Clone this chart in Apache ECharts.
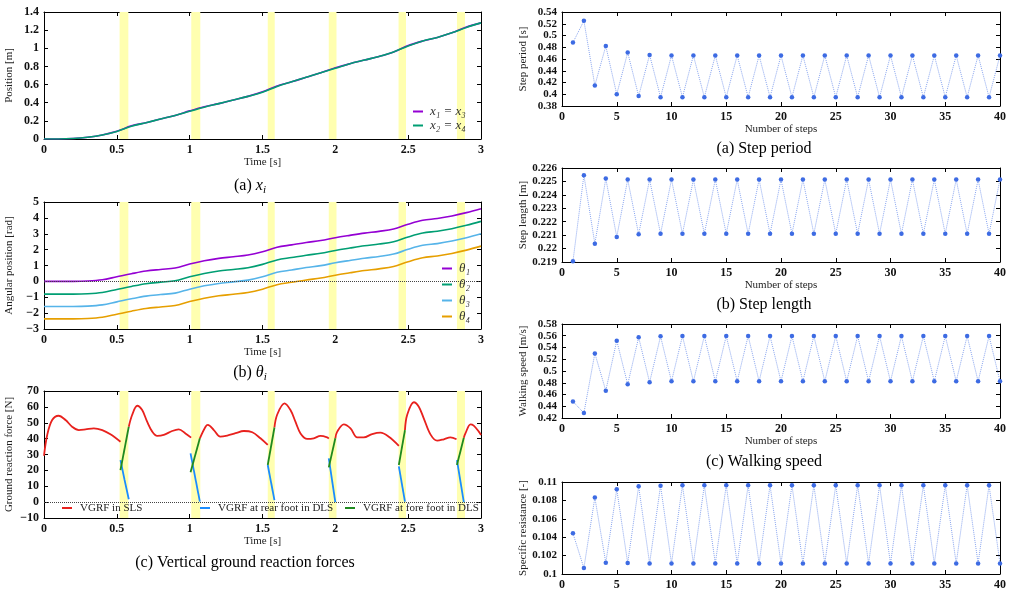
<!DOCTYPE html>
<html>
<head>
<meta charset="utf-8">
<script src="https://cdn.jsdelivr.net/npm/echarts@6/dist/echarts.min.js"></script>
<style>
  html, body { margin: 0; padding: 0; background: #fff; }
  #chart { width: 1011px; height: 591px; }
</style>
</head>
<body>
<div id="chart"></div>
<script>
// --- left column: simulation over time [s] ---
const time = [0, 0.1, 0.2, 0.3, 0.4, 0.5, 0.6, 0.7, 0.8, 0.9, 1.0, 1.1, 1.2, 1.3, 1.4, 1.5,
  1.6, 1.7, 1.8, 1.9, 2.0, 2.1, 2.2, 2.3, 2.4, 2.5, 2.6, 2.7, 2.8, 2.9, 3.0];
const x13 = [0, 0, 0.005, 0.02, 0.045, 0.085, 0.145, 0.18, 0.22, 0.26, 0.31, 0.355, 0.39, 0.43, 0.47, 0.52,
  0.585, 0.63, 0.68, 0.73, 0.785, 0.83, 0.87, 0.91, 0.96, 1.03, 1.08, 1.12, 1.17, 1.235, 1.28];
const x24 = [0, 0, 0.005, 0.02, 0.045, 0.083, 0.14, 0.18, 0.22, 0.26, 0.305, 0.35, 0.39, 0.43, 0.47, 0.515,
  0.58, 0.63, 0.68, 0.73, 0.78, 0.83, 0.87, 0.91, 0.96, 1.025, 1.08, 1.12, 1.17, 1.23, 1.28];
const theta1 = [0, 0, 0, 0.02, 0.1, 0.29, 0.48, 0.65, 0.75, 0.84, 1.09, 1.3, 1.45, 1.55, 1.66, 1.87,
  2.15, 2.3, 2.45, 2.57, 2.75, 2.9, 3.04, 3.15, 3.3, 3.6, 3.85, 3.96, 4.12, 4.33, 4.58];
const theta2 = [-0.8, -0.8, -0.8, -0.78, -0.7, -0.51, -0.32, -0.15, -0.05, 0.04, 0.29, 0.5, 0.65, 0.75, 0.86, 1.07,
  1.35, 1.5, 1.65, 1.77, 1.95, 2.1, 2.24, 2.35, 2.5, 2.8, 3.05, 3.16, 3.32, 3.53, 3.78];
const theta3 = [-1.58, -1.58, -1.58, -1.56, -1.48, -1.29, -1.1, -0.93, -0.83, -0.74, -0.49, -0.28, -0.13, -0.03, 0.08, 0.29,
  0.57, 0.72, 0.87, 0.99, 1.17, 1.32, 1.46, 1.57, 1.72, 2.02, 2.27, 2.38, 2.54, 2.75, 3.0];
const theta4 = [-2.36, -2.36, -2.36, -2.34, -2.26, -2.07, -1.88, -1.71, -1.61, -1.52, -1.27, -1.06, -0.91, -0.81, -0.7, -0.49,
  -0.21, -0.06, 0.09, 0.21, 0.39, 0.54, 0.68, 0.79, 0.94, 1.24, 1.49, 1.6, 1.76, 1.97, 2.22];

// double leg stance phases (yellow bands)
const bandStart = [0.519, 1.011, 1.536, 1.955, 2.434, 2.835];
const bandEnd = [0.579, 1.073, 1.584, 2.008, 2.485, 2.89];

// vertical ground reaction forces [N], pieces of [t, F]
const slsSegments = [
  [[0, 29.2], [0.022, 42.3], [0.056, 51.7], [0.1, 54.4], [0.148, 51.7], [0.193, 47.5], [0.239, 45.4], [0.285, 45.8], [0.342, 46.5], [0.4, 45.4], [0.456, 42.7], [0.525, 38]],
  [[0.582, 47.5], [0.605, 54.9], [0.64, 60.7], [0.674, 58], [0.708, 50.7], [0.743, 44.4], [0.777, 41.7], [0.822, 42.3], [0.88, 44.8], [0.925, 45.8], [0.971, 43.3], [1.01, 40.6]],
  [[1.07, 40.2], [1.109, 47.5], [1.125, 48.6], [1.166, 45.4], [1.21, 41.2], [1.258, 41.9], [1.315, 43.4], [1.372, 44.8], [1.43, 44], [1.486, 40.2], [1.536, 36]],
  [[1.582, 47], [1.6, 54.9], [1.651, 62.2], [1.692, 58], [1.726, 50.7], [1.761, 43.3], [1.807, 39.8], [1.852, 40.2], [1.898, 41.7], [1.944, 40.8], [1.955, 40]],
  [[2.0, 40.2], [2.013, 44.4], [2.058, 49], [2.104, 46.5], [2.15, 40.8], [2.195, 40.8], [2.253, 42.9], [2.31, 43.8], [2.367, 41.2], [2.436, 35.5]],
  [[2.478, 45.4], [2.493, 54.9], [2.539, 62.9], [2.573, 60.1], [2.607, 52.8], [2.653, 42.7], [2.699, 38.7], [2.745, 39.6], [2.79, 40.8], [2.832, 39.6]],
  [[2.882, 40.6], [2.893, 43.3], [2.928, 49], [2.95, 48.2], [2.985, 44.4], [3.0, 42.3]]
];
const rearSegments = [
  [[0.525, 26.5], [0.553, 14], [0.582, 1.8]],
  [[1.006, 30.7], [1.07, 0.3]],
  [[1.536, 23.4], [1.582, 1.3]],
  [[1.955, 27.6], [2.0, 0]],
  [[2.436, 22.5], [2.478, 0.3]],
  [[2.835, 26.5], [2.882, 0]]
];
const foreSegments = [
  [[0.525, 20.2], [0.582, 47.5]],
  [[1.006, 18.8], [1.07, 40.2]],
  [[1.536, 23.4], [1.582, 47]],
  [[1.955, 21.9], [2.0, 40.2]],
  [[2.436, 23.4], [2.478, 45.4]],
  [[2.835, 23.4], [2.882, 40.6]]
];

// --- right column: per step ---
const steps = [1, 2, 3, 4, 5, 6, 7, 8, 9, 10, 11, 12, 13, 14, 15, 16, 17, 18, 19, 20,
  21, 22, 23, 24, 25, 26, 27, 28, 29, 30, 31, 32, 33, 34, 35, 36, 37, 38, 39, 40];
const stepPeriod = [0.488, 0.525, 0.415, 0.482, 0.4, 0.471, 0.397, 0.467, 0.395, 0.466,
  0.395, 0.466, 0.395, 0.466, 0.395, 0.466, 0.395, 0.466, 0.395, 0.466,
  0.395, 0.466, 0.395, 0.466, 0.395, 0.466, 0.395, 0.466, 0.395, 0.466,
  0.395, 0.466, 0.395, 0.466, 0.395, 0.466, 0.395, 0.466, 0.395, 0.466];
const stepLength = [0.21905, 0.22546, 0.22036, 0.22521, 0.22087, 0.22514, 0.22107, 0.22514, 0.2211, 0.22514,
  0.2211, 0.22514, 0.2211, 0.22514, 0.2211, 0.22514, 0.2211, 0.22514, 0.2211, 0.22514,
  0.2211, 0.22514, 0.2211, 0.22514, 0.2211, 0.22514, 0.2211, 0.22514, 0.2211, 0.22514,
  0.2211, 0.22514, 0.2211, 0.22514, 0.2211, 0.22514, 0.2211, 0.22514, 0.2211, 0.22514];
const walkingSpeed = [0.448, 0.4285, 0.53, 0.4665, 0.5516, 0.4773, 0.5573, 0.4807, 0.559, 0.4824,
  0.5596, 0.4824, 0.5596, 0.4824, 0.5596, 0.4824, 0.5596, 0.4824, 0.5596, 0.4824,
  0.5596, 0.4824, 0.5596, 0.4824, 0.5596, 0.4824, 0.5596, 0.4824, 0.5596, 0.4824,
  0.5596, 0.4824, 0.5596, 0.4824, 0.5596, 0.4824, 0.5596, 0.4824, 0.5596, 0.4824];
const specificResistance = [0.10442, 0.10065, 0.10831, 0.10122, 0.10921, 0.10119, 0.10953, 0.10115, 0.1096, 0.10115,
  0.10964, 0.10115, 0.10964, 0.10115, 0.10964, 0.10115, 0.10964, 0.10115, 0.10964, 0.10115,
  0.10964, 0.10115, 0.10964, 0.10115, 0.10964, 0.10115, 0.10964, 0.10115, 0.10964, 0.10115,
  0.10964, 0.10115, 0.10964, 0.10115, 0.10964, 0.10115, 0.10964, 0.10115, 0.10964, 0.10115];

const SERIF = '"Liberation Serif", "DejaVu Serif", serif';
const chart = echarts.init(document.getElementById('chart'));

const grids = [], xAxes = [], yAxes = [], series = [];

function minus(v) { return String(v).replace('-', '\u2212'); }

// one boxed panel: bottom/left axes with labels, top/right mirrored ticks
function addPanel(box, xr, yr, xName, yName, ySize) {
  const g = grids.length;
  grids.push(Object.assign({ outerBoundsMode: 'none' }, box));
  const tick = { show: true, inside: true, length: 4, lineStyle: { color: '#000' } };
  const line = { show: true, onZero: false, lineStyle: { color: '#000', width: 1 } };
  const label = { show: true, fontFamily: SERIF, fontSize: 12, fontWeight: 'bold', color: '#111', margin: 5,
    formatter: minus, showMinLabel: true, showMaxLabel: true, hideOverlap: false };
  const yLabel = Object.assign({}, label, { fontSize: ySize || 12 });
  const nameStyle = { fontFamily: SERIF, fontSize: 11, color: '#222' };
  xAxes.push({ gridIndex: g, type: 'value', position: 'bottom', min: xr[0], max: xr[1], interval: xr[2],
    axisLine: line, axisTick: tick, axisLabel: label, splitLine: { show: false },
    name: xName, nameLocation: 'middle', nameGap: xr[3], nameTextStyle: nameStyle });
  xAxes.push({ gridIndex: g, type: 'value', position: 'top', min: xr[0], max: xr[1], interval: xr[2],
    axisLine: line, axisTick: tick, axisLabel: { show: false }, splitLine: { show: false } });
  yAxes.push({ gridIndex: g, type: 'value', position: 'left', min: yr[0], max: yr[1], interval: yr[2],
    axisLine: line, axisTick: tick, axisLabel: yLabel, splitLine: { show: false },
    name: yName, nameLocation: 'middle', nameGap: yr[3], nameTextStyle: nameStyle });
  yAxes.push({ gridIndex: g, type: 'value', position: 'right', min: yr[0], max: yr[1], interval: yr[2],
    axisLine: line, axisTick: tick, axisLabel: { show: false }, splitLine: { show: false } });
  return 2 * g;
}

function bands() {
  return {
    silent: true,
    itemStyle: { color: '#ffffb0' },
    data: bandStart.map((s, i) => [{ xAxis: s }, { xAxis: bandEnd[i] }])
  };
}
function zeroLine() {
  return {
    silent: true, symbol: 'none', label: { show: false },
    lineStyle: { color: '#444', type: 'dotted', width: 1 },
    data: [{ yAxis: 0 }]
  };
}
function timeLine(ax, name, vals, color, extra) {
  return Object.assign({
    type: 'line', name: name, xAxisIndex: ax, yAxisIndex: ax,
    data: time.map((t, i) => [t, vals[i]]), smooth: 0.35, showSymbol: false,
    lineStyle: { color: color, width: 1.6 }, itemStyle: { color: color }, z: 3
  }, extra || {});
}

// (a) positions
const a0 = addPanel({ left: 44, top: 12, width: 437, height: 127 }, [0, 3, 0.5, 18], [0, 1.4, 0.2, 29], 'Time [s]', 'Position [m]');
series.push(timeLine(a0, 'x\u2081 = x\u2083', x13, '#9400d3', { markArea: bands() }));
series.push(timeLine(a0, 'x\u2082 = x\u2084', x24, '#009e73'));

// (b) angles
const b0 = addPanel({ left: 44, top: 202, width: 437, height: 127 }, [0, 3, 0.5, 18], [-3, 5, 1, 29], 'Time [s]', 'Angular position [rad]');
series.push(timeLine(b0, '\u03b8\u2081', theta1, '#9400d3', { markArea: bands(), markLine: zeroLine() }));
series.push(timeLine(b0, '\u03b8\u2082', theta2, '#009e73'));
series.push(timeLine(b0, '\u03b8\u2083', theta3, '#56b4e9'));
series.push(timeLine(b0, '\u03b8\u2084', theta4, '#e69f00'));

// (c) ground reaction forces
const c0 = addPanel({ left: 44, top: 391, width: 437, height: 127 }, [0, 3, 0.5, 18], [-10, 70, 10, 29], 'Time [s]', 'Ground reaction force [N]');
function grf(name, seg, color, i) {
  const s = { type: 'line', name: name, xAxisIndex: c0, yAxisIndex: c0, data: seg,
    smooth: seg.length > 3 ? 0.35 : false, showSymbol: false,
    lineStyle: { color: color, width: 1.8 }, itemStyle: { color: color }, z: 3 };
  if (i === 0 && name === 'VGRF in SLS') { s.markArea = bands(); s.markLine = zeroLine(); }
  return s;
}
slsSegments.forEach((seg, i) => series.push(grf('VGRF in SLS', seg, '#e8211d', i)));
rearSegments.forEach((seg, i) => series.push(grf('VGRF at rear foot in DLS', seg, '#1a8cff', i)));
foreSegments.forEach((seg, i) => series.push(grf('VGRF at fore foot in DLS', seg, '#1f8a1f', i)));

// right column
function stepSeries(ax, vals) {
  return { type: 'line', xAxisIndex: ax, yAxisIndex: ax, data: steps.map((s, i) => [s, vals[i]]),
    symbol: 'circle', symbolSize: 4.5, itemStyle: { color: '#3d6be3' },
    lineStyle: { color: '#8aa6f0', width: 1, type: 'dotted' }, z: 3 };
}
const ra = addPanel({ left: 562, top: 12, width: 438, height: 94 }, [0, 40, 5, 16], [0.38, 0.54, 0.02, 33], 'Number of steps', 'Step period [s]', 11);
series.push(stepSeries(ra, stepPeriod));
const rb = addPanel({ left: 562, top: 168, width: 438, height: 94 }, [0, 40, 5, 16], [0.219, 0.226, 0.001, 33], 'Number of steps', 'Step length [m]', 11);
series.push(stepSeries(rb, stepLength));
const rc = addPanel({ left: 562, top: 324, width: 438, height: 94 }, [0, 40, 5, 16], [0.42, 0.58, 0.02, 33], 'Number of steps', 'Walking speed [m/s]', 11);
series.push(stepSeries(rc, walkingSpeed));
const rd = addPanel({ left: 562, top: 482, width: 438, height: 92 }, [0, 40, 5, 16], [0.1, 0.11, 0.002, 33], 'Number of steps', 'Specific resistance [-]', 11);
series.push(stepSeries(rd, specificResistance));

const legendText = { fontFamily: SERIF, fontSize: 11, color: '#222', lineHeight: 12 };
const mathText = { fontFamily: SERIF, fontSize: 13, fontStyle: 'italic', color: '#333', lineHeight: 13 };
const legends = [
  { data: ['x\u2081 = x\u2083', 'x\u2082 = x\u2084'], left: 413, top: 105, orient: 'vertical', itemGap: 1,
    textStyle: Object.assign({ padding: [0, 0, 0, 2] }, mathText) },
  { data: ['\u03b8\u2081', '\u03b8\u2082', '\u03b8\u2083', '\u03b8\u2084'], left: 442, top: 262, orient: 'vertical', itemGap: 3,
    textStyle: Object.assign({ padding: [0, 0, 0, 2] }, mathText) },
  { data: ['VGRF in SLS'], left: 62, top: 502, textStyle: Object.assign({ padding: [0, 0, 0, 3] }, legendText) },
  { data: ['VGRF at rear foot in DLS'], left: 200, top: 502, textStyle: Object.assign({ padding: [0, 0, 0, 3] }, legendText) },
  { data: ['VGRF at fore foot in DLS'], left: 345, top: 502, textStyle: Object.assign({ padding: [0, 0, 0, 3] }, legendText) }
].map(l => Object.assign({ icon: 'rect', itemWidth: 10, itemHeight: 2, padding: 0, selectedMode: false }, l));

const capRich = {
  it: { fontFamily: SERIF, fontSize: 16, fontStyle: 'italic', fill: '#000' },
  sub: { fontFamily: SERIF, fontSize: 11, fontStyle: 'italic', fill: '#000', padding: [9, 0, 0, 0] }
};
function caption(x, y, text) {
  return { type: 'text', x: x, y: y, silent: true,
    style: { text: text, rich: capRich, font: '16px ' + SERIF, fill: '#000', align: 'center', verticalAlign: 'middle' } };
}

chart.setOption({
  animation: false,
  backgroundColor: '#fff',
  grid: grids,
  xAxis: xAxes,
  yAxis: yAxes,
  legend: legends,
  series: series,
  graphic: [
    caption(250, 186, '(a) {it|x}{sub|i}'),
    caption(250, 373, '(b) {it|\u03b8}{sub|i}'),
    caption(245, 563, '(c) Vertical ground reaction forces'),
    caption(764, 149, '(a) Step period'),
    caption(764, 305, '(b) Step length'),
    caption(764, 462, '(c) Walking speed')
  ]
});
</script>
</body>
</html>
